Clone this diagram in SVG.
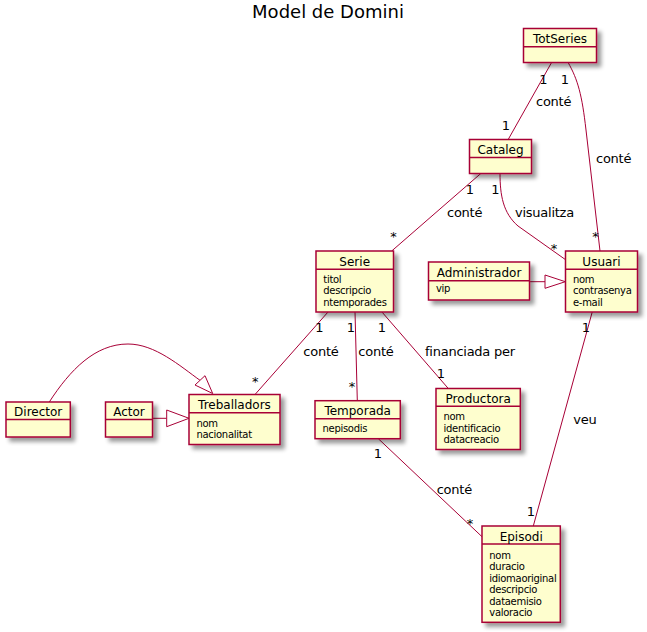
<svg xmlns="http://www.w3.org/2000/svg" width="647" height="632" viewBox="0 0 647 632">
<defs>
<filter id="sh" x="-20%" y="-20%" width="150%" height="150%">
<feGaussianBlur in="SourceAlpha" stdDeviation="2"/>
<feOffset dx="4" dy="4" result="b"/>
<feComponentTransfer><feFuncA type="linear" slope="0.4"/></feComponentTransfer>
<feMerge><feMergeNode/><feMergeNode in="SourceGraphic"/></feMerge>
</filter>
<style>
text{font-family:"DejaVu Sans","Liberation Sans",sans-serif;fill:#000}
.box{fill:#FEFECE;stroke:#A80036;stroke-width:1.5}
.div{stroke:#A80036;stroke-width:1.5}
.nm{font-size:12px;text-anchor:middle}
.at{font-size:10px;letter-spacing:-0.3px}
.ln{fill:none;stroke:#A80036;stroke-width:1}
.tri{fill:#FFFFFF;stroke:#A80036;stroke-width:1}
.lb{font-size:13px;letter-spacing:-0.25px}
.mu{font-size:13px;text-anchor:middle}
</style>
</defs>
<rect width="647" height="632" fill="#FFFFFF"/>
<text x="328" y="17.5" font-size="18" text-anchor="middle">Model de Domini</text>

<g id="connectors">
<path class="ln" d="M551.7,62.3 L508.3,139.3"/>
<path class="ln" d="M568,62.3 C578,80 582,95 586,130 L600,251"/>
<path class="ln" d="M481,173.3 L391.7,251"/>
<path class="ln" d="M500,173.3 C500,195 503,213 518,226 L565.3,259.5"/>
<path class="ln" d="M529.7,281.7 L545,281.7"/>
<polygon class="tri" points="545,275 565.3,281.7 545,288.3"/>
<path class="ln" d="M328.3,311.7 L255,394.5"/>
<path class="ln" d="M355,311.7 L357.3,400.7"/>
<path class="ln" d="M381.7,311.7 L448.3,388.5"/>
<path class="ln" d="M592.3,311.7 L533.3,526"/>
<path class="ln" d="M378.3,438.7 L482,536.7"/>
<path class="ln" d="M152.3,418.3 L166.7,418.3"/>
<polygon class="tri" points="166.7,410 189,418.3 166.7,426.7"/>
<path class="ln" d="M49.3,402 C70,370 95,344 128,344 C155,344 180,366 200,380.3"/>
<polygon class="tri" points="195,385 212.7,393.5 205,375.7"/>

<text class="mu" x="543.5" y="84">1</text>
<text class="mu" x="565" y="84">1</text>
<text class="lb" x="536" y="106">conté</text>
<text class="mu" x="506" y="129.5">1</text>
<text class="lb" x="596" y="163">conté</text>
<text class="mu" x="470" y="194">1</text>
<text class="mu" x="495.5" y="194">1</text>
<text class="lb" x="447" y="217">conté</text>
<text class="lb" x="515" y="217">visualitza</text>
<text class="mu" x="393.5" y="241">*</text>
<text class="mu" x="554" y="253">*</text>
<text class="mu" x="595.5" y="241">*</text>
<text class="mu" x="319.5" y="331.7">1</text>
<text class="mu" x="351" y="331.7">1</text>
<text class="mu" x="382" y="331.7">1</text>
<text class="mu" x="586" y="331.7">1</text>
<text class="lb" x="303.3" y="355.5">conté</text>
<text class="lb" x="358.3" y="355.5">conté</text>
<text class="lb" x="425" y="355.5">financiada per</text>
<text class="mu" x="441" y="378.3">1</text>
<text class="mu" x="352" y="391">*</text>
<text class="mu" x="255.3" y="386">*</text>
<text class="lb" x="573.3" y="424.3">veu</text>
<text class="mu" x="531" y="516">1</text>
<text class="mu" x="378" y="458.3">1</text>
<text class="lb" x="436.7" y="494">conté</text>
<text class="mu" x="470" y="528">*</text>
</g>

<g id="TotSeries">
<rect class="box" filter="url(#sh)" x="523.5" y="28.5" width="73" height="34"/>
<line class="div" x1="523.5" y1="46.7" x2="596.5" y2="46.7"/>
<text class="nm" x="560" y="42.8">TotSeries</text>
</g>

<g id="Cataleg">
<rect class="box" filter="url(#sh)" x="469.5" y="139.5" width="62" height="34"/>
<line class="div" x1="469.5" y1="157.5" x2="531.5" y2="157.5"/>
<text class="nm" x="500.5" y="153.8">Cataleg</text>
</g>

<g id="Serie">
<rect class="box" filter="url(#sh)" x="316" y="251" width="77.5" height="61"/>
<line class="div" x1="316" y1="269.3" x2="393.5" y2="269.3"/>
<text class="nm" x="354.7" y="265.5">Serie</text>
<text class="at" x="323.3" y="282.5">titol</text>
<text class="at" x="323.3" y="294">descripcio</text>
<text class="at" x="323.3" y="305.5">ntemporades</text>
</g>

<g id="Administrador">
<rect class="box" filter="url(#sh)" x="428.5" y="262" width="101" height="38"/>
<line class="div" x1="428.5" y1="280.7" x2="529.5" y2="280.7"/>
<text class="nm" x="479" y="276.5">Administrador</text>
<text class="at" x="436" y="292">vip</text>
</g>

<g id="Usuari">
<rect class="box" filter="url(#sh)" x="565.5" y="251" width="72" height="61"/>
<line class="div" x1="565.5" y1="269.3" x2="637.5" y2="269.3"/>
<text class="nm" x="601.5" y="265.5">Usuari</text>
<text class="at" x="573" y="282.5">nom</text>
<text class="at" x="573" y="294">contrasenya</text>
<text class="at" x="573" y="305.5">e-mail</text>
</g>

<g id="Director">
<rect class="box" filter="url(#sh)" x="6" y="402" width="64.3" height="35"/>
<line class="div" x1="6" y1="419.5" x2="70.3" y2="419.5"/>
<text class="nm" x="38.2" y="416.3">Director</text>
</g>

<g id="Actor">
<rect class="box" filter="url(#sh)" x="105.5" y="402" width="47" height="35"/>
<line class="div" x1="105.5" y1="419.5" x2="152.5" y2="419.5"/>
<text class="nm" x="129" y="416.3">Actor</text>
</g>

<g id="Treballadors">
<rect class="box" filter="url(#sh)" x="189" y="394.5" width="91" height="50"/>
<line class="div" x1="189" y1="412.7" x2="280" y2="412.7"/>
<text class="nm" x="234.5" y="408.8">Treballadors</text>
<text class="at" x="196.5" y="426.5">nom</text>
<text class="at" x="196.5" y="438">nacionalitat</text>
</g>

<g id="Temporada">
<rect class="box" filter="url(#sh)" x="315" y="400.7" width="85.3" height="38"/>
<line class="div" x1="315" y1="418.7" x2="400.3" y2="418.7"/>
<text class="nm" x="357.7" y="415.2">Temporada</text>
<text class="at" x="322.5" y="431.5">nepisodis</text>
</g>

<g id="Productora">
<rect class="box" filter="url(#sh)" x="436" y="388.5" width="84.3" height="61"/>
<line class="div" x1="436" y1="406.3" x2="520.3" y2="406.3"/>
<text class="nm" x="478.2" y="403">Productora</text>
<text class="at" x="443.5" y="420">nom</text>
<text class="at" x="443.5" y="431.5">identificacio</text>
<text class="at" x="443.5" y="443">datacreacio</text>
</g>

<g id="Episodi">
<rect class="box" filter="url(#sh)" x="482" y="526" width="78.3" height="96.3"/>
<line class="div" x1="482" y1="544" x2="560.3" y2="544"/>
<text class="nm" x="521.2" y="540.5">Episodi</text>
<text class="at" x="489.3" y="558.5">nom</text>
<text class="at" x="489.3" y="570">duracio</text>
<text class="at" x="489.3" y="581.5">idiomaoriginal</text>
<text class="at" x="489.3" y="593">descripcio</text>
<text class="at" x="489.3" y="604.5">dataemisio</text>
<text class="at" x="489.3" y="616">valoracio</text>
</g>
</svg>
